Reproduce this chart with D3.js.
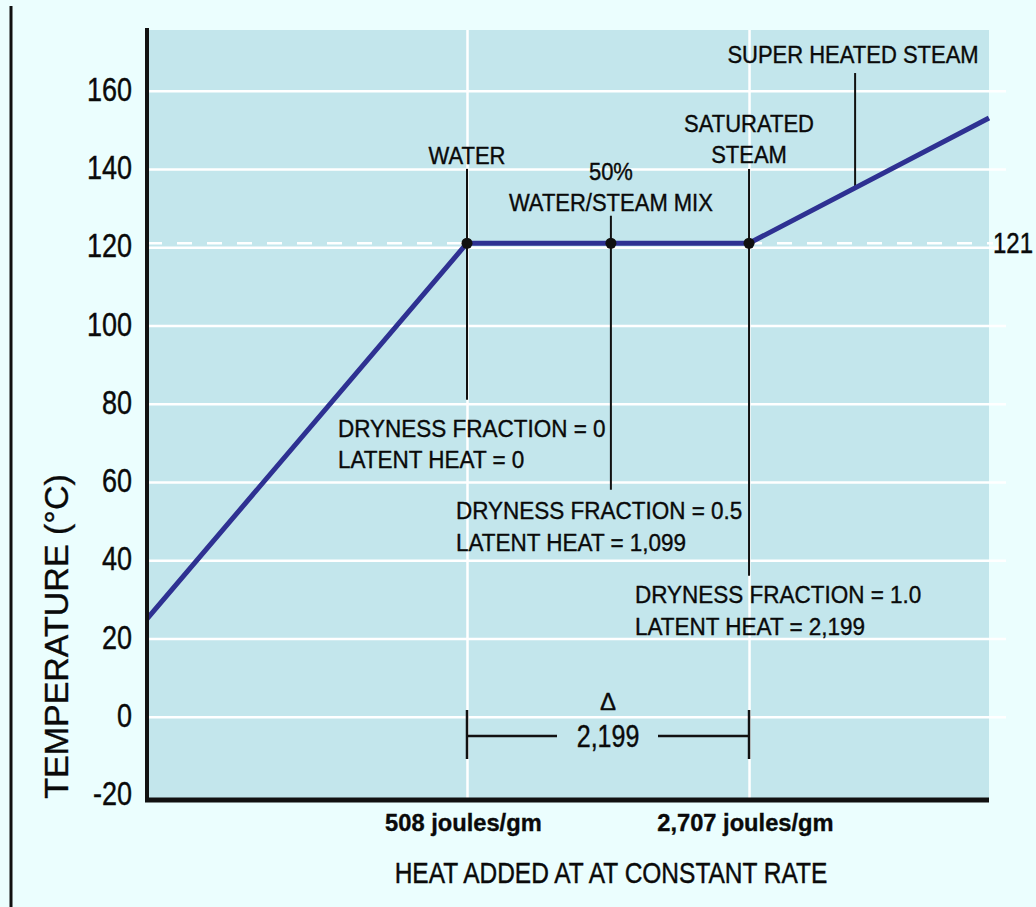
<!DOCTYPE html>
<html>
<head>
<meta charset="utf-8">
<script src="https://cdn.jsdelivr.net/npm/d3@7"></script>
<style>
  html, body { margin: 0; padding: 0; background: #ebfefe; }
  svg { display: block; }
  text { font-family: "Liberation Sans", Arial, Helvetica, sans-serif; fill: #0a0a0a; stroke: #0a0a0a; stroke-width: 0.35px; }
</style>
</head>
<body>
<svg id="chart" width="1036" height="907"></svg>
<script>
// ---------------- data ----------------
const xDomain = [-1987, 4578];          // heat added (joules/gm) across the plot width
const yDomain = [-21.3, 175.5];         // temperature (°C) across the plot height
const yTickValues = [160, 140, 120, 100, 80, 60, 40, 20, 0, -20];
const yTickLabels = ["160", "140", "120", "100", "80", "60", "40", "20", "0", "-20"];
const xTickValues = [508, 2707];
const xTickLabels = ["508 joules/gm", "2,707 joules/gm"];
const curveHeat = [-1987, 508, 2707, 4578];
const curveTemp = [25, 121, 121, 153];
const markerHeat = [508, 1630, 2707];
const markerTemp = [121, 121, 121];
const refTemp = 121;
const deltaValue = "2,199";

// ---------------- layout ----------------
const svg = d3.select("#chart");
const W = 1036, H = 907;
const plot = { left: 147, right: 989, top: 30, bottom: 800 };

svg.append("rect").attr("width", W).attr("height", H).attr("fill", "#ebfefe");

const x = d3.scaleLinear().domain(xDomain).range([plot.left, plot.right]);
const y = d3.scaleLinear().domain(yDomain).range([plot.bottom, plot.top]);

// left page border line
svg.append("line").attr("x1", 11).attr("x2", 11).attr("y1", 6).attr("y2", H)
  .attr("stroke", "#111").attr("stroke-width", 3);

// plot background
svg.append("rect").attr("x", plot.left).attr("y", plot.top)
  .attr("width", plot.right - plot.left).attr("height", plot.bottom - plot.top)
  .attr("fill", "#c3e6ec");

// horizontal gridlines
const gridY = svg.append("g").attr("transform", `translate(${plot.left},0)`)
  .call(d3.axisRight(y).tickValues(yTickValues.filter(v => v > -20)).tickSize(1006 - plot.left).tickFormat(""));
gridY.select(".domain").remove();
gridY.selectAll(".tick line").attr("stroke", "#ffffff").attr("stroke-width", 2.5);

// vertical gridlines
const gridX = svg.append("g").attr("transform", `translate(0,${plot.top})`)
  .call(d3.axisBottom(x).tickValues(xTickValues).tickSize(plot.bottom - plot.top).tickFormat(""));
gridX.select(".domain").remove();
gridX.selectAll(".tick line").attr("stroke", "#ffffff").attr("stroke-width", 2.5);

// dashed 121 reference line
svg.append("line").attr("x1", plot.left).attr("x2", 993)
  .attr("y1", y(refTemp)).attr("y2", y(refTemp))
  .attr("stroke", "#ffffff").attr("stroke-width", 2.5).attr("stroke-dasharray", "15,15");

// helper for text with vertical stretch
function label(str, px, py, opts = {}) {
  const t = svg.append("text")
    .attr("transform", `translate(${px},${py}) scale(1,${opts.sy || 1})`)
    .attr("text-anchor", opts.anchor || "start")
    .attr("font-size", (opts.size || 22) + "px")
    .attr("font-weight", opts.weight || "normal")
    .text(str);
  return t;
}

// annotation leader lines
function vline(xv, t1, t2, w = 2) {
  svg.append("line").attr("x1", x(xv)).attr("x2", x(xv))
    .attr("y1", y(t1)).attr("y2", y(t2))
    .attr("stroke", "#111").attr("stroke-width", w);
}
vline(markerHeat[0], 140, 81);
vline(markerHeat[1], 128, 58);
vline(markerHeat[2], 140, 36);
vline(3534, 164.5, 135.5);

// curve
const line = d3.line().x((d, i) => x(curveHeat[i])).y((d, i) => y(curveTemp[i]));
svg.append("path").datum(curveHeat).attr("d", line)
  .attr("fill", "none").attr("stroke", "#2e3192").attr("stroke-width", 5)
  .attr("stroke-linejoin", "round");

// markers
svg.selectAll("circle.marker").data(markerHeat).enter().append("circle")
  .attr("class", "marker")
  .attr("cx", d => x(d)).attr("cy", (d, i) => y(markerTemp[i]))
  .attr("r", 5.5).attr("fill", "#111");

// axes
const yAxis = svg.append("g").attr("transform", `translate(${plot.left},0)`)
  .call(d3.axisLeft(y).tickValues(yTickValues).tickSize(0).tickPadding(15)
    .tickFormat((d, i) => yTickLabels[i]));
yAxis.select(".domain").remove();
yAxis.selectAll(".tick text")
  .attr("font-size", "27px")
  .attr("font-family", "Liberation Sans, Arial, sans-serif")
  .attr("transform", "scale(1,1.2)").attr("dy", "0.3em");

svg.append("line").attr("x1", plot.left).attr("x2", plot.left)
  .attr("y1", plot.top - 2).attr("y2", plot.bottom + 2)
  .attr("stroke", "#111").attr("stroke-width", 4);

const xAxis = svg.append("g").attr("transform", `translate(0,${plot.bottom})`)
  .call(d3.axisBottom(x).tickValues(xTickValues).tickSize(0)
    .tickFormat((d, i) => xTickLabels[i]));
xAxis.select(".domain").remove();
xAxis.selectAll(".tick text")
  .attr("font-size", "23px").attr("font-weight", "bold")
  .attr("font-family", "Liberation Sans, Arial, sans-serif")
  .attr("y", 29).attr("dy", 0).attr("dx", -4)
  .attr("transform", "scale(1.03,1.08)");

svg.append("line").attr("x1", plot.left - 2).attr("x2", plot.right)
  .attr("y1", plot.bottom).attr("y2", plot.bottom)
  .attr("stroke", "#111").attr("stroke-width", 5);

// axis titles
svg.append("text")
  .attr("transform", `translate(68,${(473 + 800) / 2}) rotate(-90)`)
  .attr("text-anchor", "middle").attr("font-size", "34px")
  .text("TEMPERATURE (°C)");
label("HEAT ADDED AT AT CONSTANT RATE", 611, 883, { size: 24.5, anchor: "middle", sy: 1.2 });

// annotations
label("WATER", x(markerHeat[0]), 164, { size: 22, anchor: "middle", sy: 1.1 });
label("50%", x(markerHeat[1]), 180, { size: 22, anchor: "middle", sy: 1.1 });
label("WATER/STEAM MIX", x(markerHeat[1]), 211, { size: 22, anchor: "middle", sy: 1.1 });
label("SATURATED", x(markerHeat[2]), 132, { size: 22, anchor: "middle", sy: 1.1 });
label("STEAM", x(markerHeat[2]), 163, { size: 22, anchor: "middle", sy: 1.1 });
label("SUPER HEATED STEAM", 853, 63, { size: 22, anchor: "middle", sy: 1.1 });

label("DRYNESS FRACTION = 0", 338, 437, { size: 22.5, sy: 1.05 });
label("LATENT HEAT = 0", 338, 468, { size: 22.5, sy: 1.05 });
label("DRYNESS FRACTION = 0.5", 456, 519, { size: 22.5, sy: 1.05 });
label("LATENT HEAT = 1,099", 456, 551, { size: 22.5, sy: 1.05 });
label("DRYNESS FRACTION = 1.0", 635, 603, { size: 22.5, sy: 1.05 });
label("LATENT HEAT = 2,199", 635, 635, { size: 22.5, sy: 1.05 });

label(String(refTemp), 993, 253, { size: 24, sy: 1.2 });

// delta bracket
const bx1 = x(xTickValues[0]), bx2 = x(xTickValues[1]), by = 736;
[[bx1, 557], [658, bx2]].forEach(([a, b]) => {
  svg.append("line").attr("x1", a).attr("x2", b).attr("y1", by).attr("y2", by)
    .attr("stroke", "#111").attr("stroke-width", 2.5);
});
[bx1, bx2].forEach(a => {
  svg.append("line").attr("x1", a).attr("x2", a).attr("y1", 710).attr("y2", 759)
    .attr("stroke", "#111").attr("stroke-width", 2.5);
});
label("Δ", (bx1 + bx2) / 2, 710, { size: 24, anchor: "middle" });
label(deltaValue, (bx1 + bx2) / 2, 747, { size: 25, anchor: "middle", sy: 1.22 });
</script>
</body>
</html>
